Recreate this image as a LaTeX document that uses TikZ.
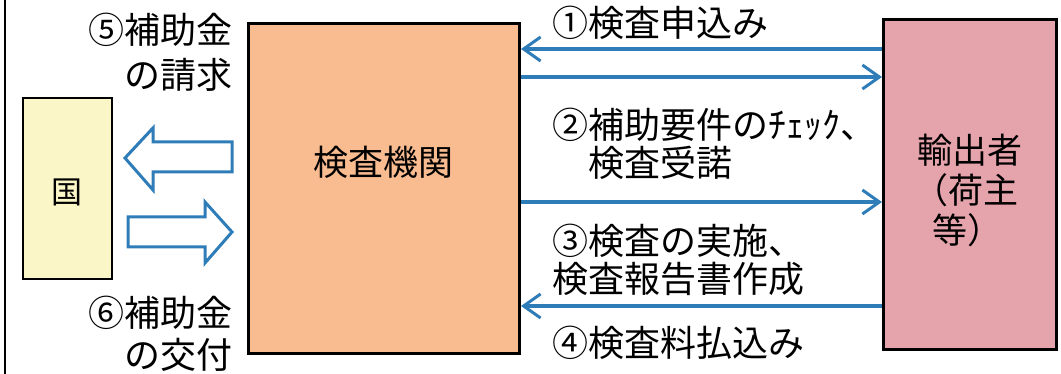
\documentclass[tikz,border=0pt]{standalone}
\usepackage{fontspec}
\setmainfont{Noto Sans CJK JP}
\usetikzlibrary{arrows.meta}
\definecolor{peach}{HTML}{F9BC91}
\definecolor{pinkbox}{HTML}{E5A3AB}
\definecolor{yellowbox}{HTML}{FBF6C8}
\definecolor{flowblue}{HTML}{2F7DB8}
\tikzset{
  box/.style={draw=black, line width=3pt, anchor=north west, inner sep=0pt},
  flow/.style={draw=flowblue, line width=3.2pt, -{Straight Barb[length=17pt,width=24pt,line width=3pt]}},
  blockarrow/.style={draw=flowblue, line width=3pt, fill=white, line join=miter},
  lbl/.style={font=\fontsize{36}{38}\selectfont, inner sep=0pt, align=left, anchor=west},
}
\begin{document}
\begin{tikzpicture}[x=1pt,y=-1pt]
\useasboundingbox (0,0) rectangle (1061,374);
% left frame line
\draw[line width=2.5pt] (5,0) -- (5,374);
% boxes
\node[box, line width=2pt, fill=yellowbox, minimum width=89pt, minimum height=181pt] (kuni) at (22,97) {};
\node[font=\fontsize{31}{34}\selectfont, inner sep=0pt] (kunit) at (67,192) {国};
\node[box, fill=peach, minimum width=271pt, minimum height=330pt] (insp) at (247,22) {};
\node[font=\fontsize{35}{38}\selectfont, inner sep=0pt] (inspt) at (383,162) {検査機関};
\node[box, fill=pinkbox, minimum width=173pt, minimum height=330pt] (exp) at (882,18) {};
\node[font=\fontsize{35}{40}\selectfont, align=left, anchor=west, inner sep=0pt] (expt) at (917,190) {輸出者\\\hspace{-0.1em}（荷主\\\hspace{0.45em}等）};
% block arrows
\draw[blockarrow] (232,142) -- (153,142) -- (153,128) -- (125,158) -- (153,190) -- (153,172) -- (232,172) -- cycle;
\draw[blockarrow] (128,217) -- (205,217) -- (205,202) -- (232,232) -- (205,263) -- (205,247) -- (128,247) -- cycle;
% flow arrows
\coordinate (y1) at (0,49);
\coordinate (y2) at (0,77);
\coordinate (y3) at (0,202);
\coordinate (y4) at (0,306);
\draw[flow] (exp.west |- y1) -- (insp.east |- y1);
\draw[flow] (insp.east |- y2) -- (exp.west |- y2);
\draw[flow] (insp.east |- y3) -- (exp.west |- y3);
\draw[flow] (exp.west |- y4) -- (insp.east |- y4);
% labels
\node[lbl] (l1) at (552,23) {①検査申込み};
\node[lbl] (l2) at (552,144) {②補助要件のﾁｪｯｸ、\\　検査受諾};
\node[lbl] (l3) at (552,260) {③検査の実施、\\検査報告書作成};
\node[lbl] (l4) at (552,343) {④検査料払込み};
\node[lbl, align=right, anchor=east, font=\fontsize{36}{45}\selectfont] (l5) at (233,52) {⑤補助金\\の請求};
\node[lbl, align=right, anchor=east, font=\fontsize{36}{42}\selectfont] (l6) at (233,334) {⑥補助金\\の交付};
\end{tikzpicture}
\end{document}
